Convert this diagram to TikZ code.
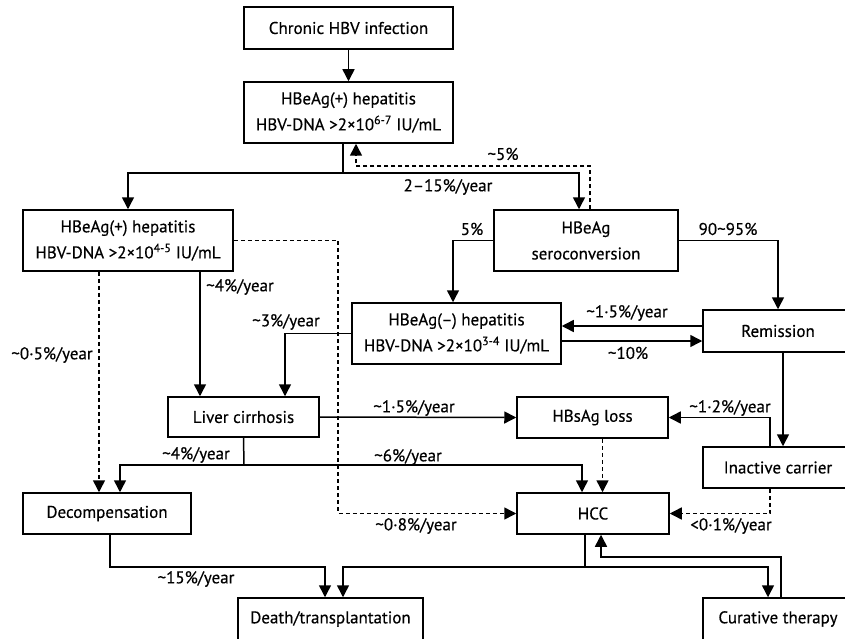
\documentclass[tikz,border=0pt]{standalone}
\usepackage{fontspec}
\setmainfont{PT Sans}[FakeBold=0.4]
\usetikzlibrary{arrows.meta,calc,positioning}
\newcommand{\apx}{\textasciitilde}

\begin{document}
\begin{tikzpicture}[x=1pt,y=-1pt,
	box/.style={draw,line width=1.5pt,inner sep=0pt,align=center,font=\fontsize{17}{26}\selectfont},
	lab/.style={inner sep=0pt,font=\fontsize{17}{20}\selectfont},
	conn/.style={line width=1.5pt},
	arr/.style={conn,-{Triangle[width=12pt,length=12pt]}},
	dasharr/.style={arr,dash pattern=on 4pt off 3pt}]
	\useasboundingbox (0,0) rectangle (845,639);
	\node[box,minimum width=209,minimum height=42] (chronic) at (348.5,28) {Chronic HBV infection};
	\node[box,minimum width=209,minimum height=61] (hepA) at (348.5,112.5) {HBeAg(+) hepatitis\\HBV-DNA >2×10\textsuperscript{6-7} IU/mL};
	\node[box,minimum width=210,minimum height=61] (hepB) at (128,240.5) {HBeAg(+) hepatitis\\HBV-DNA >2×10\textsuperscript{4-5} IU/mL};
	\node[box,minimum width=184,minimum height=61] (sero) at (586,240.5) {HBeAg\\seroconversion};
	\node[box,minimum width=209,minimum height=61] (hepneg) at (456.5,333.5) {HBeAg(–) hepatitis\\HBV-DNA >2×10\textsuperscript{3-4} IU/mL};
	\node[box,minimum width=150,minimum height=42] (remis) at (778,331) {Remission};
	\node[box,minimum width=151,minimum height=40] (cirr) at (243.5,417) {Liver cirrhosis};
	\node[box,minimum width=151,minimum height=41] (hbsag) at (592.5,417.5) {HBsAg loss};
	\node[box,minimum width=150,minimum height=41] (inact) at (778,467.5) {Inactive carrier};
	\node[box,minimum width=168,minimum height=41] (decomp) at (107,513.5) {Decompensation};
	\node[box,minimum width=152,minimum height=41] (hcc) at (593,513.5) {HCC};
	\node[box,minimum width=185,minimum height=42] (death) at (330.5,619) {Death/transplantation};
	\node[box,minimum width=150,minimum height=42] (cure) at (778,619) {Curative therapy};

	\coordinate (split) at (343,173);
	\coordinate (back) at (356,166);
	\coordinate (cross) at (338,513.5);
	\coordinate (csplit) at (244,465);
	\coordinate (hsplit) at (585,567);
	\coordinate (cback) at (601,557);

	\draw[arr] (chronic) -- (hepA);
	\draw[conn] (split |- hepA.south) -- (split);
	\draw[arr] (split) -| (hepB.north);
	\draw[arr] (split) -| ([xshift=-7]sero.north);
	\draw[dasharr] ([xshift=4]sero.north) |- (back) -- (back |- hepA.south);
	\node[lab] (l5) at (503,154) {\apx5\%};
	\node[lab] (l215) at (448,187) {2–15\%/year};

	\draw[arr] ([xshift=72]hepB.south) -- ([xshift=72]hepB.south |- cirr.north);
	\node[lab] (l4a) at (240,287) {\apx4\%/year};
	\draw[dasharr] ([xshift=-29]hepB.south) -- ([xshift=-29]hepB.south |- decomp.north);
	\node[lab] (l05) at (52,355) {\apx0·5\%/year};
	\draw[dasharr] (hepB.east) -| (cross) -- (hcc.west);
	\node[lab] (l08) at (416,526) {\apx0·8\%/year};

	\draw[arr] (sero.west) -| ([xshift=-3.5]hepneg.north);
	\node[lab] (l5b) at (472,229) {5\%};
	\draw[arr] (sero.east) -| (remis.north);
	\node[lab] (l9095) at (728,229) {90\apx95\%};

	\draw[arr] ([yshift=5]remis.west) -- ([yshift=5]remis.west -| hepneg.east);
	\node[lab] (l15a) at (627,313) {\apx1·5\%/year};
	\draw[arr] ([yshift=-7.5]hepneg.east) -- ([yshift=-7.5]hepneg.east -| remis.west);
	\node[lab] (l10) at (628,353) {\apx10\%};
	\draw[arr] (hepneg.west) -| ([xshift=41.5]cirr.north);
	\node[lab] (l3) at (286,322) {\apx3\%/year};

	\draw[arr] (cirr.east) -- (hbsag.west);
	\node[lab] (l15b) at (414,408) {\apx1·5\%/year};
	\draw[conn] (cirr.south) -- (csplit);
	\draw[arr] (csplit) -| ([xshift=13]decomp.north);
	\draw[arr] (csplit) -| ([xshift=-11]hcc.north);
	\node[lab] (l4b) at (196,455) {\apx4\%/year};
	\node[lab] (l6) at (408,457) {\apx6\%/year};

	\draw[dasharr] ([xshift=10]hbsag.south) -- ([xshift=10]hbsag.south |- hcc.north);
	\draw[arr] ([xshift=5]remis.south) -- ([xshift=5]inact.north);
	\draw[arr] ([xshift=-8]inact.north) |- (hbsag.east);
	\node[lab] (l12) at (730,408) {\apx1·2\%/year};
	\draw[dasharr] ([xshift=-8]inact.south) |- (hcc.east);
	\node[lab] (l01) at (731,526) {<0·1\%/year};

	\draw[conn] (hsplit |- hcc.south) -- (hsplit);
	\draw[arr] (hsplit) -| ([xshift=12.5]death.north);
	\draw[arr] (hsplit) -| ([xshift=-10]cure.north);
	\draw[arr] ([xshift=3]cure.north) |- (cback) -- (cback |- hcc.south);
	\draw[arr] ([xshift=3]decomp.south) |- ([xshift=-5.5]death.north |- hsplit) -- ([xshift=-5.5]death.north);
	\node[lab] (l15c) at (196,579) {\apx15\%/year};
\end{tikzpicture}
\end{document}
